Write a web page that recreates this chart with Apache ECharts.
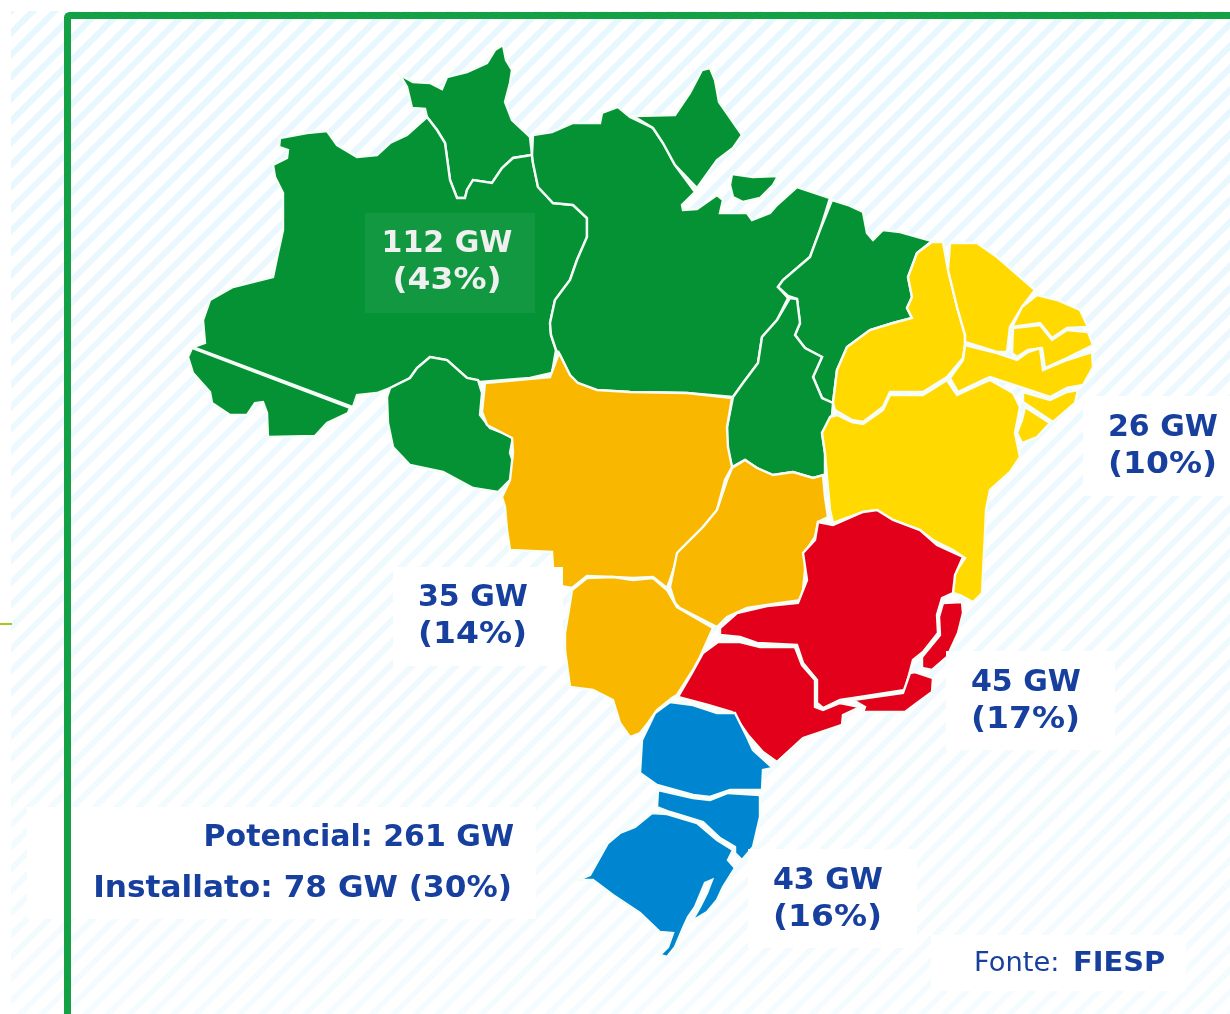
<!DOCTYPE html>
<html><head><meta charset="utf-8">
<style>html,body{margin:0;padding:0;background:#fff}#c{width:1230px;height:1014px}</style>
<script src="https://cdn.jsdelivr.net/npm/echarts@6/dist/echarts.min.js"></script>
</head><body><div id="c"></div>
<script>
// Values
const regionNames = ['Norte','Centro-Oeste','Sudeste','Sul','Nordeste'];
const regionGW    = [112,35,45,43,26];
const regionPct   = [43,14,17,16,10];
const regionColor = ['#049235','#f9b700','#e2001a','#0086d0','#ffd900'];
const regionStates = [
  ['RR','AM','AC','RO','PA','AP','MA','TO'],
  ['MT','MS','GO'],
  ['MG','ES','RJ','SP'],
  ['PR','SC','RS'],
  ['PI','CE','RN','PB','PE','AL','SE','BA']
];
const potentialGW = 261, installedGW = 78, installedPct = 30;
const sourceName = 'FIESP';

// Traced outlines of the states (map geometry, as a GeoJSON source)
const RR=[[400,75],[413,82],[430,83],[442,89],[447,77],[467,72],[487,63],[495,50],[503,45],[506,60],[512,70],[510,83],[505,102],[512,120],[530,137],[532,155],[513,158],[502,168],[492,183],[473,180],[467,190],[465,198],[457,198],[450,180],[445,143],[437,130],[427,117],[425,109],[412,108],[407,87]];
const AM=[[280,138],[307,133],[327,131],[337,145],[357,157],[377,155],[390,143],[407,135],[427,117],[437,130],[445,143],[450,180],[457,198],[465,198],[467,190],[473,180],[492,183],[502,168],[513,158],[532,155],[533,163],[538,187],[553,203],[573,205],[587,218],[587,237],[577,260],[570,280],[555,300],[550,323],[551,335],[556,350],[552,373],[530,378],[480,382],[467,378],[447,360],[430,357],[417,368],[410,378],[390,388],[377,393],[357,395],[353,407],[193,347],[205,343],[203,320],[210,300],[233,287],[273,277],[278,253],[283,230],[283,193],[275,177],[273,165],[287,158],[288,150],[279,147]];
const AC=[[192,348],[350,408],[348,413],[327,423],[315,436],[268,437],[267,413],[263,402],[255,403],[247,415],[230,415],[212,403],[210,392],[193,373],[188,357]];
const RO=[[387,397],[390,388],[410,378],[417,368],[430,357],[447,360],[467,378],[478,380],[482,393],[480,415],[490,428],[513,437],[510,453],[515,467],[510,480],[498,492],[473,488],[443,472],[410,465],[393,447],[388,423]];
const PA=[[533,135],[552,132],[573,123],[600,123],[602,113],[618,107],[630,117],[653,128],[663,143],[675,165],[695,192],[682,205],[683,210],[697,209],[717,195],[723,200],[720,213],[747,213],[752,220],[770,213],[777,205],[797,187],[830,198],[820,230],[810,257],[783,280],[778,287],[788,298],[777,320],[762,337],[760,350],[758,363],[743,383],[733,397],[687,393],[630,392],[593,390],[573,382],[560,355],[556,350],[551,335],[550,323],[555,300],[570,280],[577,260],[587,237],[587,218],[573,205],[553,203],[538,187],[533,163],[532,155]];
const MJ=[[732,174],[753,177],[778,176],[773,185],[760,198],[743,202],[733,197],[730,185]];
const AP=[[633,116],[675,115],[690,93],[702,70],[710,68],[715,80],[719,102],[742,135],[733,148],[717,160],[697,188],[675,165],[663,143],[653,128]];
const MA=[[832,200],[848,205],[863,212],[867,233],[873,240],[883,230],[900,232],[932,241],[917,253],[908,277],[912,297],[907,308],[912,318],[893,323],[870,330],[847,347],[837,370],[833,403],[822,398],[813,377],[822,357],[805,348],[795,335],[800,323],[797,299],[788,296],[778,287],[783,280],[810,257],[820,230]];
const TO=[[790,298],[797,299],[800,323],[795,335],[805,348],[822,357],[813,377],[822,398],[833,403],[832,415],[822,433],[825,453],[825,475],[813,478],[793,472],[773,475],[757,468],[745,460],[732,467],[727,447],[727,427],[733,397],[743,383],[758,363],[760,350],[762,337],[777,320]];
const PI=[[943,242],[948,270],[957,307],[965,335],[965,345],[963,358],[947,377],[923,392],[890,392],[883,407],[863,422],[852,420],[835,410],[833,403],[837,370],[847,347],[870,330],[893,323],[912,318],[907,308],[912,297],[908,277],[917,253],[932,242]];
const CE=[[950,243],[977,243],[997,257],[1035,290],[1022,307],[1010,327],[1007,352],[997,352],[965,342],[965,335],[957,307],[948,270]];
const RN=[[1037,295],[1057,300],[1080,310],[1088,327],[1067,328],[1052,338],[1040,323],[1012,327],[1022,307]];
const PB=[[1013,328],[1040,325],[1052,340],[1067,330],[1088,332],[1093,345],[1067,358],[1045,368],[1042,348],[1028,350],[1017,357],[1012,353]];
const PE=[[965,345],[997,353],[1017,360],[1028,352],[1040,348],[1043,370],[1067,360],[1092,352],[1093,367],[1083,385],[1067,388],[1050,397],[1023,388],[990,377],[983,380],[958,392],[950,378],[963,360]];
const AL=[[1023,392],[1050,400],[1067,392],[1078,390],[1075,403],[1053,422],[1023,402]];
const SE=[[1025,407],[1050,423],[1037,437],[1022,443],[1017,433],[1022,420]];
const BA=[[830,417],[837,415],[852,422],[863,424],[883,410],[890,395],[923,395],[947,380],[957,395],[983,383],[990,380],[1013,393],[1020,407],[1015,433],[1020,457],[1010,472],[990,490],[986,510],[985,533],[982,593],[973,602],[960,595],[953,593],[955,573],[965,558],[953,550],[933,540],[920,530],[893,520],[877,510],[863,512],[833,523],[830,510],[827,477],[825,453],[822,433]];
const MT=[[559,353],[570,375],[578,383],[597,390],[630,392],[687,393],[732,398],[727,427],[728,447],[732,467],[725,480],[717,510],[703,527],[680,550],[670,580],[667,588],[653,577],[633,578],[613,577],[587,576],[572,588],[555,585],[553,567],[552,552],[510,550],[507,530],[505,507],[502,497],[510,480],[513,453],[512,438],[487,425],[482,412],[485,383],[550,377]];
const MS=[[572,590],[587,578],[613,577],[633,580],[653,578],[667,590],[677,607],[713,628],[700,657],[693,670],[677,695],[672,698],[657,710],[648,723],[640,733],[630,737],[620,723],[613,700],[593,690],[570,687],[565,650],[565,633],[570,603]];
const GO=[[732,468],[745,460],[757,468],[773,475],[793,472],[813,478],[823,475],[825,497],[828,517],[818,522],[815,537],[805,552],[805,570],[802,600],[780,603],[747,608],[727,617],[717,627],[680,608],[675,603],[670,587],[677,553],[703,527],[717,510],[727,480]];
const MG=[[720,628],[737,613],[767,606],[798,603],[807,580],[803,553],[815,540],[818,522],[833,525],[863,512],[877,510],[893,520],[920,530],[937,545],[963,557],[955,575],[953,593],[942,598],[937,615],[938,633],[923,652],[913,660],[905,690],[860,697],[840,700],[823,708],[817,703],[817,680],[803,663],[797,645],[757,643],[740,637],[720,635]];
const ES=[[943,603],[962,602],[963,613],[958,633],[947,657],[932,670],[922,668],[922,657],[940,635],[939,617]];
const RJ=[[915,672],[933,678],[932,692],[917,703],[905,712],[863,712],[865,707],[853,700],[903,693],[910,673]];
const SP=[[718,642],[740,642],[760,647],[795,647],[802,665],[815,680],[815,707],[823,710],[840,703],[860,707],[843,715],[842,725],[803,738],[777,762],[763,752],[748,735],[732,712],[708,705],[678,697],[692,673],[703,653]];
const PR=[[670,702],[693,705],[717,713],[735,713],[747,737],[753,750],[773,768],[763,770],[762,790],[730,790],[710,797],[693,795],[657,785],[640,773],[642,740],[655,713]];
const SC=[[658,790],[693,798],[710,800],[728,793],[760,795],[760,817],[753,847],[742,860],[735,853],[735,847],[720,838],[703,822],[670,812],[657,807]];
const RS=[[652,813],[667,814],[697,823],[717,840],[733,850],[728,860],[735,868],[723,887],[717,900],[707,912],[692,921],[700,907],[707,893],[712,880],[705,883],[695,907],[688,917],[683,928],[675,947],[667,957],[660,955],[668,947],[673,933],[660,932],[640,913],[613,895],[593,880],[578,880],[590,875],[608,843],[620,833],[635,827]];
const shapes={RR:[RR],AM:[AM],AC:[AC],RO:[RO],PA:[PA,MJ],AP:[AP],MA:[MA],TO:[TO],PI:[PI],CE:[CE],RN:[RN],PB:[PB],PE:[PE],AL:[AL],SE:[SE],BA:[BA],MT:[MT],MS:[MS],GO:[GO],MG:[MG],ES:[ES],RJ:[RJ],SP:[SP],PR:[PR],SC:[SC],RS:[RS]};

const ring=r=>r.concat([r[0]]);
const geo={type:'FeatureCollection',features:Object.keys(shapes).map(k=>({type:'Feature',properties:{name:k},geometry:{type:'MultiPolygon',coordinates:shapes[k].map(r=>[ring(r)])}}))};
echarts.registerMap('brasil',geo);

const mapData=[];
regionStates.forEach((list,i)=>list.forEach(s=>mapData.push({name:s,value:regionGW[i],itemStyle:{areaColor:regionColor[i],color:regionColor[i]}})));

// striped backdrop
const P=22;
const tile=document.createElement('canvas');tile.width=tile.height=P;
const t=tile.getContext('2d');t.fillStyle='#fff';t.fillRect(0,0,P,P);
t.strokeStyle='#e6f7fe';t.lineWidth=6;t.lineCap='butt';
[-P,0,P].forEach(o=>{t.beginPath();t.moveTo(o-P,P*2);t.lineTo(o+P*2,-P);t.stroke();});

const BLUE='#173f9e',F='"DejaVu Sans"';
const txt=(x,y,s,font,fill,align,sx)=>({type:'text',z:12,silent:true,x,y,scaleX:sx||1,originX:0,originY:0,style:{x:0,y:0,text:s,font,fill:fill||BLUE,textAlign:align||'left',textVerticalAlign:'middle'}});
const box=(x,y,w,h,fill)=>({type:'rect',z:10,silent:true,shape:{x,y,width:w,height:h},style:{fill:fill||'#fff'}});
const big='bold 30px '+F;
const labelPos={Norte:[447,244,'center',[365,213,170,100,'rgba(255,255,255,0.06)'],'#f0f0f0'],
 'Centro-Oeste':[418,598,'left',[393,567,170,99]],
 Sudeste:[971,683,'left',[946,651,169,99]],
 Sul:[773,881,'left',[748,849,169,99]],
 Nordeste:[1108,428,'left',[1083,396,147,100]]};
const g=[];
g.push({type:'rect',z:0,silent:true,shape:{x:11,y:11,width:1219,height:1003},style:{fill:{image:tile,repeat:'repeat'}}});
g.push({type:'rect',z:1,silent:true,shape:{x:11,y:11,width:1219,height:1003},style:{fill:{type:'linear',x:0,y:0,x2:0,y2:1,colorStops:[{offset:0,color:'rgba(255,255,255,0)'},{offset:1,color:'rgba(255,255,255,0.6)'}]}}});
g.push({type:'rect',z:1,silent:true,shape:{x:0,y:623,width:12,height:2},style:{fill:'#a8c61e'}});
regionNames.forEach((n,i)=>{const p=labelPos[n];const b=p[3];
 g.push(box(b[0],b[1],b[2],b[3],b[4]));
 g.push(txt(p[0],p[1],regionGW[i]+' GW',big,p[4],p[2]));
 g.push(txt(p[0],p[1]+37,'('+regionPct[i]+'%)',big,p[4],p[2],1.1));
});
g.push(box(27,807,509,112));
g.push(txt(514,838,'Potencial: '+potentialGW+' GW',big,BLUE,'right'));
g.push(txt(512,889,'Installato: '+installedGW+' GW ('+installedPct+'%)',big,BLUE,'right',1.04));
g.push(box(931,935,255,56));
g.push(txt(974,964,'Fonte:','26px '+F,BLUE,'left',1.05));
g.push(txt(1073,964,sourceName,'bold 26px '+F,BLUE,'left',1.11));
g.push({type:'rect',z:20,silent:true,shape:{x:67.5,y:15.5,width:1170,height:1010,r:2},style:{fill:'none',stroke:'#14a044',lineWidth:7}});

const chart=echarts.init(document.getElementById('c'),null,{renderer:'canvas'});
chart.setOption({
 animation:false,
 backgroundColor:'#fff',
 graphic:{elements:g},
 series:[{type:'map',map:'brasil',silent:true,selectedMode:false,
  projection:{project:p=>p,unproject:p=>p},
  left:0,top:0,width:1230,height:1014,boundingCoords:[[0,0],[1230,1014]],
  label:{show:false},emphasis:{disabled:true},
  itemStyle:{borderColor:'#f6fdf6',borderWidth:2.4},
  data:mapData}]
});
</script></body></html>
